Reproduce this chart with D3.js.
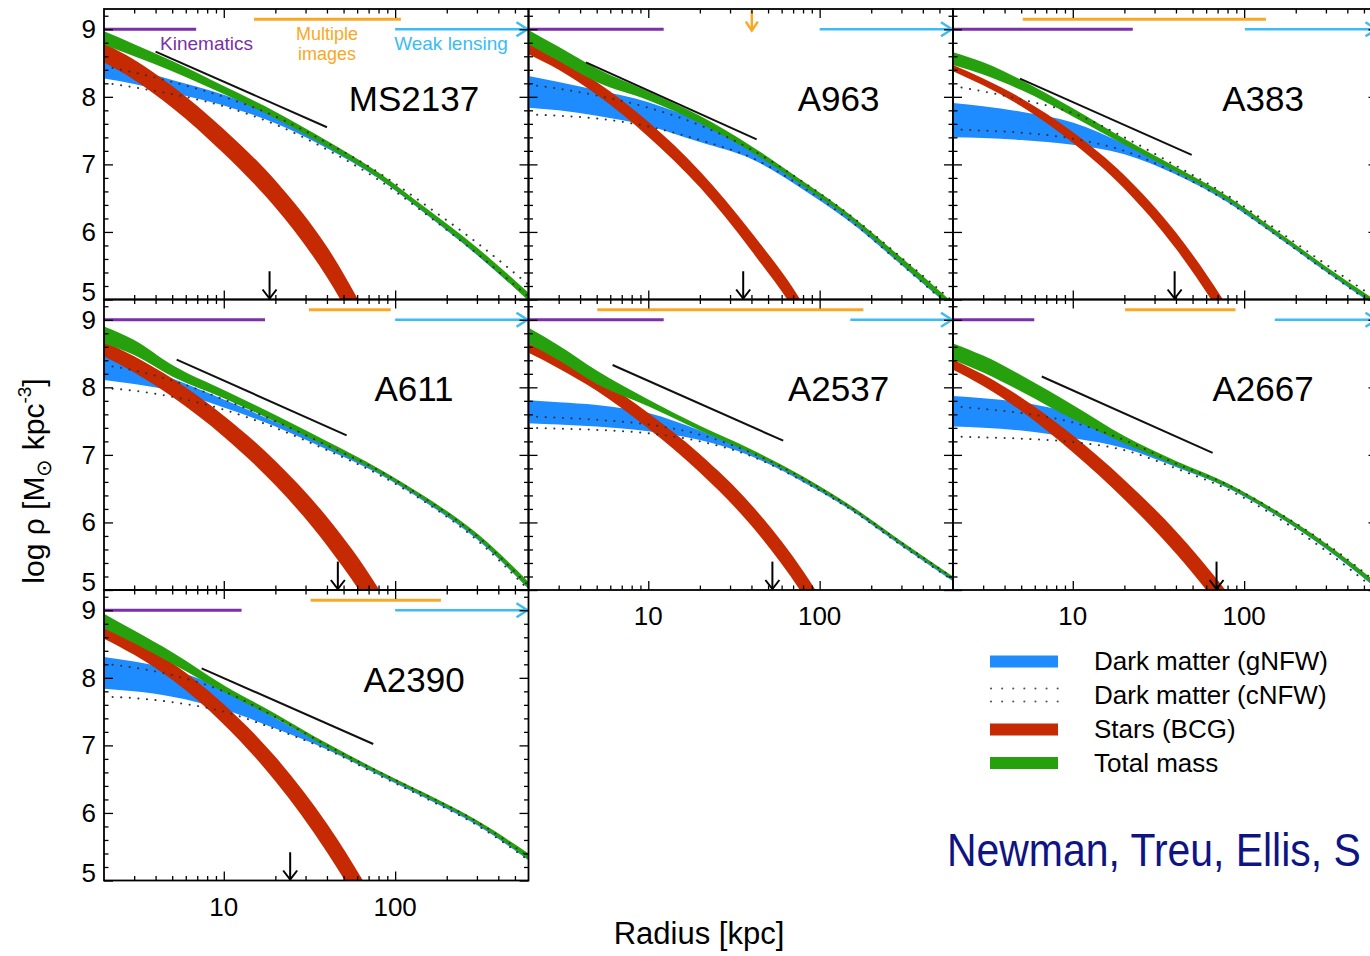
<!DOCTYPE html>
<html><head><meta charset="utf-8">
<script src="https://cdn.jsdelivr.net/npm/d3@7"></script>
<style>
body{margin:0;background:#fff}
text{font-family:"Liberation Sans",Arial,Helvetica,sans-serif}
</style>
</head><body>
<svg id="c" width="1370" height="956"></svg>
<script>
// ---------------- DATA ----------------
const clusters = ["MS2137","A963","A383","A611","A2537","A2667","A2390"];
const radii = [2,3,5,10,20,40,80,150,300,600];          // kpc
const xTickLabels = [10,100];
const yTickLabels = [5,6,7,8,9];

// Total mass (green band) log rho
const greenLo = [
 [8.77,8.60,8.38,8.04,7.68,7.26,6.80,6.28,5.67,4.98],
 [8.78,8.53,8.22,7.95,7.61,7.18,6.68,6.19,5.53,4.86],
 [8.47,8.33,8.10,7.71,7.29,6.89,6.47,5.98,5.43,4.90],
 [8.65,8.48,8.16,7.84,7.49,7.12,6.74,6.32,5.77,5.02],
 [8.65,8.40,8.05,7.72,7.36,7.02,6.63,6.21,5.67,5.15],
 [8.41,8.22,7.94,7.53,7.17,6.84,6.52,6.13,5.62,5.02],
 [8.73,8.51,8.21,7.79,7.40,6.97,6.58,6.24,5.84,5.31]];
const greenHi = [
 [8.97,8.78,8.53,8.16,7.78,7.35,6.88,6.36,5.77,5.10],
 [8.99,8.74,8.42,8.08,7.72,7.27,6.75,6.26,5.62,4.95],
 [8.66,8.51,8.25,7.83,7.38,6.96,6.53,6.04,5.49,4.97],
 [8.90,8.70,8.33,7.96,7.59,7.20,6.80,6.38,5.84,5.12],
 [8.88,8.62,8.25,7.82,7.43,7.08,6.68,6.26,5.72,5.20],
 [8.65,8.47,8.18,7.74,7.28,6.91,6.58,6.19,5.69,5.10],
 [8.95,8.70,8.38,7.89,7.47,7.03,6.63,6.29,5.89,5.40]];
// Stars (BCG, red band)
const redLo = [
 [8.51,8.25,7.84,7.16,6.36,5.33,3.95,2.63,1.10,-0.40],
 [8.63,8.40,8.03,7.41,6.66,5.72,4.63,3.24,1.60,-0.20],
 [8.38,8.17,7.86,7.32,6.64,5.75,4.61,3.35,1.75,-0.05],
 [8.46,8.22,7.86,7.27,6.55,5.66,4.54,3.25,1.65,-0.15],
 [8.51,8.28,7.95,7.39,6.74,5.95,4.93,3.76,2.20,0.50],
 [8.26,8.02,7.65,7.04,6.34,5.54,4.59,3.59,2.39,1.19],
 [8.58,8.34,7.97,7.31,6.47,5.42,4.14,2.78,1.12,-0.69]];
const redHi = [
 [8.79,8.55,8.16,7.52,6.76,5.78,4.45,3.18,1.70,0.20],
 [8.79,8.57,8.22,7.63,6.90,5.99,4.93,3.56,2.00,0.20],
 [8.47,8.27,7.98,7.48,6.84,5.99,4.89,3.65,2.05,0.25],
 [8.68,8.46,8.13,7.58,6.91,6.08,5.02,3.75,2.15,0.35],
 [8.65,8.44,8.14,7.62,7.01,6.26,5.28,4.14,2.60,0.90],
 [8.41,8.19,7.85,7.29,6.63,5.87,4.96,3.99,2.79,1.59],
 [8.78,8.56,8.22,7.61,6.83,5.84,4.60,3.28,1.62,-0.19]];
// Dark matter gNFW (blue band)
const blueLo = [
 [8.27,8.19,8.06,7.87,7.61,7.24,6.79,6.27,5.66,4.99],
 [7.84,7.80,7.72,7.57,7.33,7.08,6.63,6.15,5.51,4.85],
 [7.40,7.39,7.36,7.29,7.15,6.85,6.44,5.96,5.41,4.88],
 [8.11,8.05,7.95,7.70,7.42,7.08,6.72,6.30,5.75,5.02],
 [7.47,7.45,7.42,7.35,7.22,6.98,6.60,6.19,5.65,5.13],
 [7.42,7.40,7.36,7.25,7.10,6.82,6.51,6.12,5.61,5.01],
 [7.84,7.80,7.72,7.53,7.25,6.94,6.56,6.22,5.82,5.30]];
const blueHi = [
 [8.52,8.41,8.25,8.03,7.73,7.33,6.86,6.34,5.73,5.05],
 [8.31,8.22,8.10,7.92,7.63,7.20,6.70,6.21,5.56,4.89],
 [7.91,7.86,7.78,7.62,7.30,6.90,6.48,5.99,5.44,4.91],
 [8.46,8.33,8.13,7.82,7.49,7.14,6.76,6.34,5.79,5.05],
 [7.81,7.78,7.74,7.62,7.36,7.03,6.64,6.22,5.68,5.16],
 [7.87,7.84,7.78,7.60,7.22,6.86,6.54,6.15,5.64,5.04],
 [8.31,8.24,8.12,7.83,7.40,6.98,6.59,6.25,5.85,5.32]];
// Dark matter cNFW (dotted bounds)
const cnfwLo = [
 [8.21,8.14,8.04,7.86,7.59,7.22,6.77,6.27,5.68,5.04],
 [7.74,7.72,7.68,7.56,7.36,7.10,6.66,6.17,5.52,4.85],
 [7.52,7.50,7.47,7.38,7.20,6.87,6.45,5.97,5.42,4.88],
 [7.99,7.95,7.86,7.67,7.40,7.07,6.71,6.30,5.74,5.00],
 [7.40,7.39,7.37,7.32,7.20,6.98,6.61,6.20,5.66,5.14],
 [7.27,7.26,7.24,7.19,7.07,6.80,6.49,6.10,5.58,4.98],
 [7.72,7.70,7.64,7.50,7.24,6.94,6.56,6.22,5.82,5.30]];
const cnfwHi = [
 [8.45,8.36,8.22,8.00,7.71,7.32,6.88,6.40,5.84,5.22],
 [8.18,8.12,8.02,7.84,7.58,7.22,6.74,6.25,5.62,4.97],
 [8.16,8.08,7.96,7.76,7.40,6.98,6.54,6.06,5.52,5.00],
 [8.33,8.25,8.10,7.82,7.50,7.14,6.77,6.35,5.80,5.06],
 [7.57,7.55,7.52,7.45,7.30,7.03,6.65,6.23,5.70,5.18],
 [7.72,7.68,7.62,7.48,7.22,6.87,6.56,6.18,5.69,5.10],
 [8.21,8.15,8.04,7.80,7.42,7.00,6.61,6.27,5.87,5.35]];
// reference slope segment [r0, logrho0, r1, logrho1]
const slopeSeg = [
 [4.0,8.67,40,7.55],[4.33,8.51,42.9,7.37],[4.92,8.27,49.4,7.14],
 [5.31,8.41,52.1,7.29],[6.19,8.33,61.3,7.21],[6.59,8.16,65.5,7.03],[7.43,8.14,74.5,7.02]];
const arrowR = [18.5,35.8,39.3,46.3,53,69,24.4];              // black down arrows
const kinematicsR = [[2,6.9],[2,12.3],[2,22.4],[2,17.4],[2,12.3],[2,5.96],[2,12.7]];
const multipleR = [[15,108],null,[5.1,134],[31.4,94.2],[5.04,180],[20.2,89],[32.1,185]];
const multipleArrowR = [null,40.2,null,null,null,null,null];
const weakR = [[100,600],[100,600],[101,600],[100,600],[151,600],[151,600],[100,600]];
const legendLabels = ["Dark matter (gNFW)","Dark matter (cNFW)","Stars (BCG)","Total mass"];

// ---------------- STYLE ----------------
const C = {green:"#27a00e", red:"#c62a02", blue:"#1e8cff", purple:"#7b2fa8",
           orange:"#f9a824", sky:"#3cbcf5", dot:"#333"};
const W = 424.5, H = 290.5, L0 = 104, T0 = 9;
const grid = [[0,0],[1,0],[2,0],[0,1],[1,1],[2,1],[0,2]];

const x = d3.scaleLog().domain([2,600]).range([0,W]);
const y = d3.scaleLinear().domain([5,9.3]).range([H,0]);

const svg = d3.select("#c");
svg.append("defs").append("clipPath").attr("id","clip")
  .append("rect").attr("width",W).attr("height",H);

const band = (lo,hi) => d3.area()
  .x((d,j)=>x(radii[j])).y0((d,j)=>y(lo[j])).y1((d,j)=>y(hi[j]))
  .curve(d3.curveMonotoneX)(radii);
const line = a => d3.line().x((d,j)=>x(radii[j])).y((d,j)=>y(a[j]))
  .curve(d3.curveMonotoneX)(radii);

const minorX = [3,4,5,6,7,8,9,20,30,40,50,60,70,80,90,200,300,400,500];
const majorY = yTickLabels;
const minorY = y.ticks(22).filter(v => Math.abs(v - Math.round(v)) > 1e-6);

clusters.forEach((name,i) => {
  const [col,row] = grid[i];
  const g = svg.append("g").attr("transform",`translate(${L0+col*W},${T0+row*H})`);
  const p = g.append("g").attr("clip-path","url(#clip)");

  p.append("path").attr("d",band(blueLo[i],blueHi[i])).attr("fill",C.blue);
  p.append("path").attr("d",band(redLo[i],redHi[i])).attr("fill",C.red);
  p.append("path").attr("d",band(greenLo[i],greenHi[i])).attr("fill",C.green);
  [cnfwLo[i],cnfwHi[i]].forEach(a => p.append("path").attr("d",line(a))
     .attr("fill","none").attr("stroke",C.dot).attr("stroke-width",2)
     .attr("stroke-linecap","round").attr("stroke-dasharray","0.1 8.5"));

  const s = slopeSeg[i];
  p.append("line").attr("x1",x(s[0])).attr("y1",y(s[1])).attr("x2",x(s[2])).attr("y2",y(s[3]))
   .attr("stroke","#111").attr("stroke-width",2);

  // data range bars
  p.append("line").attr("x1",x(kinematicsR[i][0])).attr("x2",x(kinematicsR[i][1]))
   .attr("y1",y(9)).attr("y2",y(9)).attr("stroke",C.purple).attr("stroke-width",3);
  if (multipleR[i]) p.append("line").attr("x1",x(multipleR[i][0])).attr("x2",x(multipleR[i][1]))
   .attr("y1",y(9.15)).attr("y2",y(9.15)).attr("stroke",C.orange).attr("stroke-width",3);
  if (multipleArrowR[i]) {
    const ax = x(multipleArrowR[i]);
    p.append("line").attr("x1",ax).attr("x2",ax).attr("y1",y(9.27)).attr("y2",y(8.98))
     .attr("stroke",C.orange).attr("stroke-width",2.5);
    p.append("path").attr("d",`M${ax-6},${y(8.98)-9}L${ax},${y(8.98)}L${ax+6},${y(8.98)-9}`)
     .attr("fill","none").attr("stroke",C.orange).attr("stroke-width",2.5);
  }
  const wx0 = x(weakR[i][0]), wx1 = x(weakR[i][1]), wy = y(9);
  p.append("line").attr("x1",wx0).attr("x2",wx1-1).attr("y1",wy).attr("y2",wy)
   .attr("stroke",C.sky).attr("stroke-width",2.5);
  p.append("path").attr("d",`M${wx1-12},${wy-7}L${wx1-1},${wy}L${wx1-12},${wy+7}`)
   .attr("fill","none").attr("stroke",C.sky).attr("stroke-width",2.5);

  // black down arrow
  const bx = x(arrowR[i]);
  p.append("line").attr("x1",bx).attr("x2",bx).attr("y1",y(5.42)).attr("y2",H-1)
   .attr("stroke","#000").attr("stroke-width",2);
  p.append("path").attr("d",`M${bx-7},${H-10}L${bx},${H-1}L${bx+7},${H-10}`)
   .attr("fill","none").attr("stroke","#000").attr("stroke-width",2);

  // ticks (inward) on all four sides
  const tk = (gen) => { const a = g.append("g").call(gen); a.select(".domain").remove();
    a.selectAll("line").attr("stroke","#000").attr("stroke-width",1.3); return a; };
  tk(d3.axisBottom(x).tickValues(minorX).tickSize(-4.5).tickFormat("")).attr("transform",`translate(0,${H})`);
  tk(d3.axisBottom(x).tickValues(xTickLabels).tickSize(-9).tickFormat("")).attr("transform",`translate(0,${H})`);
  tk(d3.axisTop(x).tickValues(minorX).tickSize(-4.5).tickFormat(""));
  tk(d3.axisTop(x).tickValues(xTickLabels).tickSize(-9).tickFormat(""));
  tk(d3.axisLeft(y).tickValues(minorY).tickSize(-4.5).tickFormat(""));
  tk(d3.axisLeft(y).tickValues(majorY).tickSize(-9).tickFormat(""));
  tk(d3.axisRight(y).tickValues(minorY).tickSize(-4.5).tickFormat("")).attr("transform",`translate(${W},0)`);
  tk(d3.axisRight(y).tickValues(majorY).tickSize(-9).tickFormat("")).attr("transform",`translate(${W},0)`);
  g.append("rect").attr("width",W).attr("height",H).attr("fill","none")
   .attr("stroke","#000").attr("stroke-width",1.8);

  // cluster name
  g.append("text").attr("x",310).attr("y",101.5).attr("text-anchor","middle")
   .attr("font-size",35).attr("fill","#000").text(name);

  // y labels on left column
  if (col === 0) yTickLabels.forEach(v => g.append("text").attr("x",-8)
     .attr("y",y(v) + 9 - (v===5 ? 8 : 0)).attr("text-anchor","end")
     .attr("font-size",26).attr("fill","#000").text(v));
  // x labels where no panel below
  if (row === 2 || (row === 1 && col > 0)) xTickLabels.forEach(v => g.append("text")
     .attr("x",x(v)).attr("y",H+35).attr("text-anchor","middle")
     .attr("font-size",26).attr("fill","#000").text(v));

  if (i === 0) {
    const t = (tx,ty,str,col,fs) => g.append("text").attr("x",tx).attr("y",ty)
      .attr("text-anchor","middle").attr("font-size",fs).attr("fill",col).text(str);
    t(102.5,41,"Kinematics",C.purple,19);
    t(223,31,"Multiple",C.orange,18);
    t(223,51,"images",C.orange,18);
    t(347,41,"Weak lensing",C.sky,19);
  }
});

// axis titles
svg.append("text").attr("x",699).attr("y",944).attr("text-anchor","middle")
  .attr("font-size",31).attr("fill","#000").text("Radius [kpc]");
const yt = svg.append("text").attr("transform","translate(44,481) rotate(-90)")
  .attr("text-anchor","middle").attr("font-size",30).attr("fill","#000");
yt.append("tspan").text("log ρ [M");
yt.append("tspan").attr("font-size",21).attr("dy",7).text("⊙");
yt.append("tspan").attr("dy",-7).text(" kpc");
yt.append("tspan").attr("font-size",19).attr("dy",-13).text("-3");
yt.append("tspan").attr("dy",13).text("]");

// legend
const lg = svg.append("g");
const lx0 = 990, lx1 = 1058, rows = [661.5, 695, 729.5, 763];
const sw = [C.blue,null,C.red,C.green];
legendLabels.forEach((lab,k) => {
  if (sw[k]) lg.append("rect").attr("x",lx0).attr("y",rows[k]-6).attr("width",lx1-lx0)
     .attr("height",12).attr("fill",sw[k]);
  else [-6.5,6.5].forEach(dy => lg.append("line").attr("x1",lx0+1).attr("x2",lx1)
     .attr("y1",rows[k]+dy).attr("y2",rows[k]+dy).attr("stroke","#555").attr("stroke-width",2)
     .attr("stroke-linecap","round").attr("stroke-dasharray","0.1 11"));
  lg.append("text").attr("x",1094).attr("y",rows[k]+8.5).attr("font-size",26)
    .attr("fill","#000").text(lab);
});

// credit (condensed horizontally to mimic the narrow original face)
const cr = svg.append("text").attr("x",0).attr("y",0)
  .attr("font-family","Lato, 'Open Sans', sans-serif").attr("font-size",46)
  .attr("fill","#0f1484").text("Newman, Treu, Ellis, S");
const natural = cr.node().getComputedTextLength();
cr.attr("transform",`translate(947,866) scale(${414/natural},1)`);
</script>
</body></html>
